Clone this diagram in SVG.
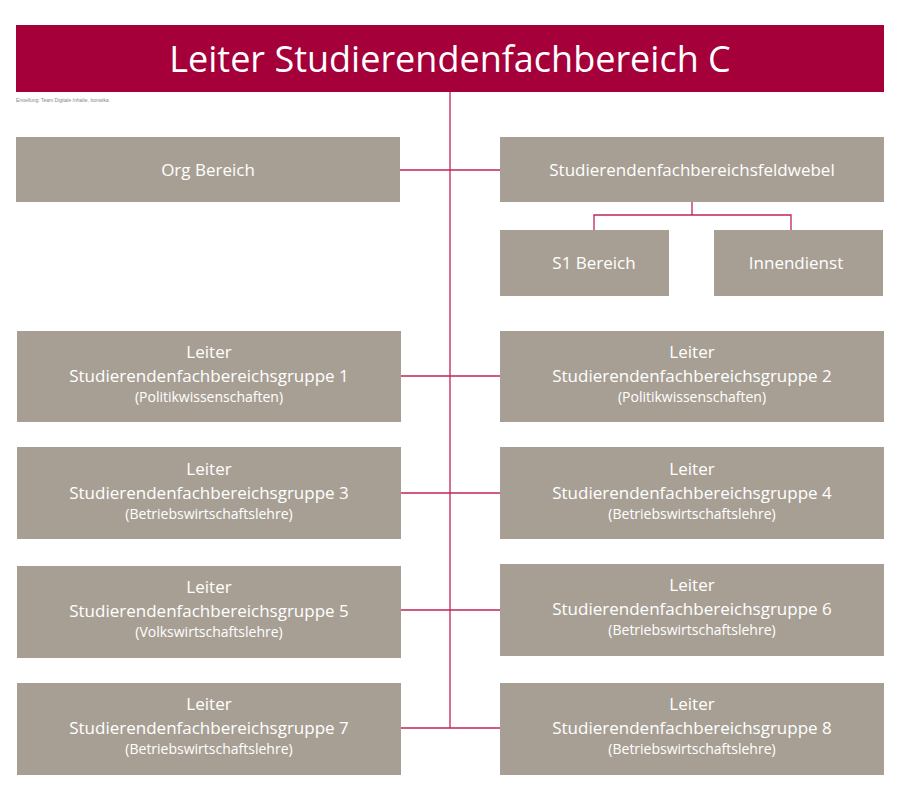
<svg xmlns="http://www.w3.org/2000/svg" width="900" height="806" viewBox="0 0 900 806">
<style>
.b{fill:#a89f94}
.t{font-family:"Open Sans","Liberation Sans",sans-serif;fill:#fff;text-anchor:middle;font-size:17px}
.s{font-size:14px}
.c{stroke:#c0245a;stroke-width:1.3;fill:none}
</style>
<rect width="900" height="806" fill="#fff"/>
<g id="header"><rect x="16" y="25" width="868" height="67" fill="#a5003a"/>
<text class="t" x="450" y="72" style="font-size:36px">Leiter Studierendenfachbereich C</text></g>
<text x="16" y="102" font-family="Liberation Sans,sans-serif" font-size="5" fill="#888">Erstellung: Team Digitale Inhalte, bonwika</text>
<g id="connectors" class="c">
<path d="M450 92V728M400 170H500M692 202V215M594 230V215H791V230M401 376H500M401 493H500M401 610H500M401 728H500"/>
</g>
<g id="org"><rect class="b" x="16" y="137" width="384" height="65"/><text class="t" x="208" y="176">Org Bereich</text></g>
<g id="fw"><rect class="b" x="500" y="137" width="384" height="65"/><text class="t" x="692" y="176">Studierendenfachbereichsfeldwebel</text></g>
<g id="s1"><rect class="b" x="500" y="230" width="169" height="66"/><text class="t" x="594" y="269">S1 Bereich</text></g>
<g id="inn"><rect class="b" x="714" y="230" width="169" height="66"/><text class="t" x="796" y="269">Innendienst</text></g>
<g id="g1"><rect class="b" x="17" y="331" width="384" height="91"/><text class="t" x="209" y="358">Leiter</text><text class="t" x="209" y="382">Studierendenfachbereichsgruppe 1</text><text class="t s" x="209" y="402">(Politikwissenschaften)</text></g>
<g id="g2"><rect class="b" x="500" y="331" width="384" height="91"/><text class="t" x="692" y="358">Leiter</text><text class="t" x="692" y="382">Studierendenfachbereichsgruppe 2</text><text class="t s" x="692" y="402">(Politikwissenschaften)</text></g>
<g id="g3"><rect class="b" x="17" y="447" width="384" height="92"/><text class="t" x="209" y="475">Leiter</text><text class="t" x="209" y="499">Studierendenfachbereichsgruppe 3</text><text class="t s" x="209" y="519">(Betriebswirtschaftslehre)</text></g>
<g id="g4"><rect class="b" x="500" y="447" width="384" height="92"/><text class="t" x="692" y="475">Leiter</text><text class="t" x="692" y="499">Studierendenfachbereichsgruppe 4</text><text class="t s" x="692" y="519">(Betriebswirtschaftslehre)</text></g>
<g id="g5"><rect class="b" x="17" y="566" width="384" height="92"/><text class="t" x="209" y="593">Leiter</text><text class="t" x="209" y="617">Studierendenfachbereichsgruppe 5</text><text class="t s" x="209" y="637">(Volkswirtschaftslehre)</text></g>
<g id="g6"><rect class="b" x="500" y="564" width="384" height="92"/><text class="t" x="692" y="591">Leiter</text><text class="t" x="692" y="615">Studierendenfachbereichsgruppe 6</text><text class="t s" x="692" y="635">(Betriebswirtschaftslehre)</text></g>
<g id="g7"><rect class="b" x="17" y="683" width="384" height="92"/><text class="t" x="209" y="710">Leiter</text><text class="t" x="209" y="734">Studierendenfachbereichsgruppe 7</text><text class="t s" x="209" y="754">(Betriebswirtschaftslehre)</text></g>
<g id="g8"><rect class="b" x="500" y="683" width="384" height="92"/><text class="t" x="692" y="710">Leiter</text><text class="t" x="692" y="734">Studierendenfachbereichsgruppe 8</text><text class="t s" x="692" y="754">(Betriebswirtschaftslehre)</text></g>
</svg>
